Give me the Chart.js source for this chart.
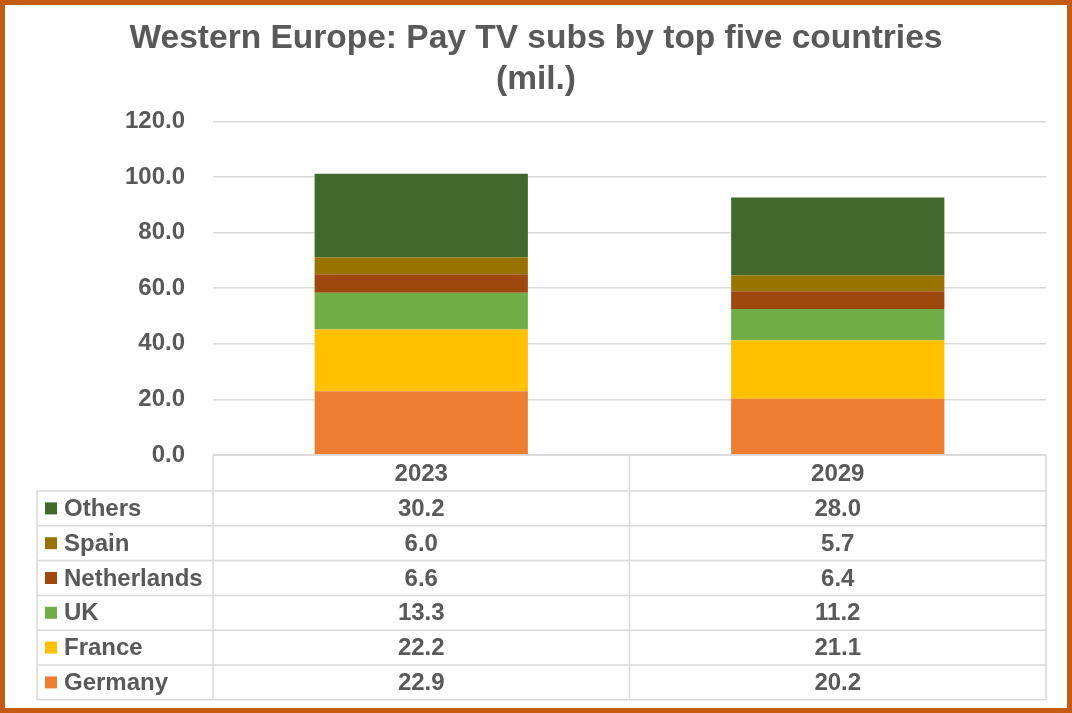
<!DOCTYPE html>
<html>
<head>
<meta charset="utf-8">
<script src="https://cdn.jsdelivr.net/npm/chart.js@4.4.1/dist/chart.umd.min.js"></script>
<style>
    html, body { margin: 0; padding: 0; background: #fff; }
    #frame {
        width: 1072px;
        height: 713px;
        box-sizing: border-box;
        border: 5px solid #C55A11;
        background: #fff;
    }
    #chart { display: block; }
</style>
</head>
<body>
<div id="frame">
    <canvas id="chart" width="1062" height="703"></canvas>
</div>
<script>
// Dados do gráfico
const years = ['2023', '2029'];
const countries = ['Germany', 'France', 'UK', 'Netherlands', 'Spain', 'Others'];
const germany = [22.9, 20.2];
const france = [22.2, 21.1];
const uk = [13.3, 11.2];
const netherlands = [6.6, 6.4];
const spain = [6.0, 5.7];
const others = [30.2, 28.0];
const yTicks = [0, 20, 40, 60, 80, 100, 120];

const seriesValues = [germany, france, uk, netherlands, spain, others];
const colors = ['#ED7D31', '#FFC000', '#70AD47', '#9E480E', '#997300', '#43682B'];

const FONT = '"Liberation Sans", Arial, sans-serif';
const TEXT = '#595959';
const GRID = '#D9D9D9';

// Tabela de dados desenhada abaixo do eixo
const dataTablePlugin = {
    id: 'dataTable',
    afterDraw(chart) {
        const ctx = chart.ctx;
        const ca = chart.chartArea;
        const xs = chart.scales.x;
        const headerH = 36;
        const rowH = 34.8;
        const labelLeft = ca.left - 176;
        const cols = [ca.left];
        for (let i = 0; i < years.length - 1; i++) {
            cols.push((xs.getPixelForValue(i) + xs.getPixelForValue(i + 1)) / 2);
        }
        cols.push(ca.right);
        const top = ca.bottom;
        const bodyTop = top + headerH;
        const bottom = bodyTop + rowH * countries.length;

        ctx.save();
        ctx.strokeStyle = GRID;
        ctx.lineWidth = 1.5;
        ctx.beginPath();
        ctx.moveTo(ca.left, top);
        ctx.lineTo(ca.right, top);
        for (let r = 0; r <= countries.length; r++) {
            const y = bodyTop + r * rowH;
            ctx.moveTo(labelLeft, y);
            ctx.lineTo(ca.right, y);
        }
        cols.forEach(x => {
            ctx.moveTo(x, top);
            ctx.lineTo(x, bottom);
        });
        ctx.moveTo(labelLeft, bodyTop);
        ctx.lineTo(labelLeft, bottom);
        ctx.stroke();

        ctx.fillStyle = TEXT;
        ctx.font = 'bold 24px ' + FONT;
        ctx.textBaseline = 'middle';
        ctx.textAlign = 'center';
        years.forEach((yr, i) => {
            ctx.fillText(yr, (cols[i] + cols[i + 1]) / 2, top + headerH / 2 + 1);
        });

        // Linhas em ordem inversa (Others no topo)
        const order = countries.map((c, i) => i).reverse();
        order.forEach((si, r) => {
            const cy = bodyTop + r * rowH + rowH / 2 + 1;
            ctx.fillStyle = colors[si];
            ctx.fillRect(labelLeft + 8, cy - 7, 12, 12);
            ctx.fillStyle = TEXT;
            ctx.textAlign = 'left';
            ctx.fillText(countries[si], labelLeft + 27, cy);
            ctx.textAlign = 'center';
            seriesValues[si].forEach((v, i) => {
                ctx.fillText(v.toFixed(1), (cols[i] + cols[i + 1]) / 2, cy);
            });
        });
        ctx.restore();
    }
};

const chart = new Chart(document.getElementById('chart').getContext('2d'), {
    type: 'bar',
    data: {
        labels: years,
        datasets: countries.map((name, i) => ({
            label: name,
            data: seriesValues[i],
            backgroundColor: colors[i],
            borderWidth: 0,
            barPercentage: 0.512,
            categoryPercentage: 1
        }))
    },
    options: {
        responsive: false,
        animation: false,
        layout: { padding: { left: 21, right: 21, top: 0, bottom: 253 } },
        plugins: {
            legend: { display: false },
            tooltip: { enabled: false },
            title: {
                display: true,
                text: ['Western Europe: Pay TV subs by top five countries', '(mil.)'],
                color: TEXT,
                font: { family: FONT, size: 33.5, weight: 'bold', lineHeight: 1.2 },
                padding: { top: 14, bottom: 22 }
            }
        },
        scales: {
            x: {
                stacked: true,
                display: false
            },
            y: {
                stacked: true,
                min: 0,
                max: 120,
                afterBuildTicks: (scale) => {
                    scale.ticks = yTicks.map(v => ({ value: v }));
                },
                afterFit: (scale) => {
                    scale.width = 187;
                },
                border: { display: false },
                grid: { color: GRID, lineWidth: 1.5, drawTicks: false },
                ticks: {
                    color: TEXT,
                    padding: 28,
                    font: { family: FONT, size: 24, weight: 'bold' },
                    callback: (v) => Number(v).toFixed(1)
                }
            }
        }
    },
    plugins: [dataTablePlugin]
});
</script>
</body>
</html>
